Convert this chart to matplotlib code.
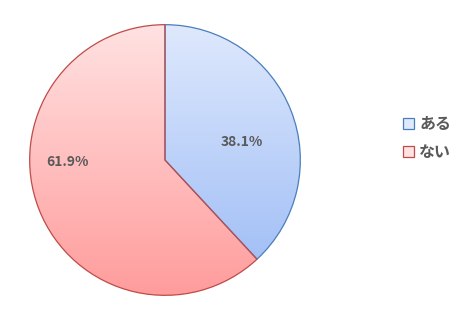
import numpy as np
import matplotlib.pyplot as plt
from matplotlib.colors import LinearSegmentedColormap

plt.rcParams['font.family'] = ['Noto Sans CJK JP', 'DejaVu Sans']

labels = ['ある', 'ない']
values = [38.1, 61.9]
pct_text = ['38.1%', '61.9%']
top_colors = ['#dfe9fd', '#ffe2e2']
bottom_colors = ['#a3c0f6', '#ff9c9c']
edge_colors = ['#4a7ebb', '#be4b48']
# label positions in axes data units (radius = 1)
label_pos = [(0.57, 0.13), (-0.72, -0.015)]

fig = plt.figure(figsize=(4.72, 3.21), dpi=100)
ax = fig.add_axes([29 / 472, 25 / 321, 272 / 472, 272 / 321])

wedges, _ = ax.pie(values, startangle=90, counterclock=False,
                   colors=top_colors,
                   wedgeprops=dict(linewidth=0.9))
for w, ec in zip(wedges, edge_colors):
    w.set_edgecolor(ec)

leg = fig.legend(wedges, labels, loc='center left',
                 bbox_to_anchor=(389 / 472, 1 - 138 / 321), frameon=False,
                 handlelength=0.65, handleheight=0.65, handletextpad=0.35,
                 labelspacing=0.75, fontsize=11.5)
for t in leg.get_texts():
    t.set_color('#595959')
    t.set_fontweight('bold')

# gradient fill clipped to each wedge
for w, c0, c1 in zip(wedges, top_colors, bottom_colors):
    ext = w.get_path().get_extents()
    cmap = LinearSegmentedColormap.from_list('g', [c1, c0])
    grad = np.linspace(0, 1, 256).reshape(-1, 1)
    im = ax.imshow(grad, cmap=cmap, origin='lower', aspect='auto',
                   extent=[ext.x0, ext.x1, ext.y0, ext.y1], zorder=0.5,
                   interpolation='bilinear')
    im.set_clip_path(w)
    w.set_facecolor('none')

for txt, (x, y) in zip(pct_text, label_pos):
    ax.text(x, y, txt, ha='center', va='center', fontsize=10,
            fontweight='bold', color='#595959')

ax.set_xlim(-1.005, 1.005)
ax.set_ylim(-1.005, 1.005)
ax.set_aspect('equal')
ax.axis('off')

fig.savefig('out.png', dpi=100)
